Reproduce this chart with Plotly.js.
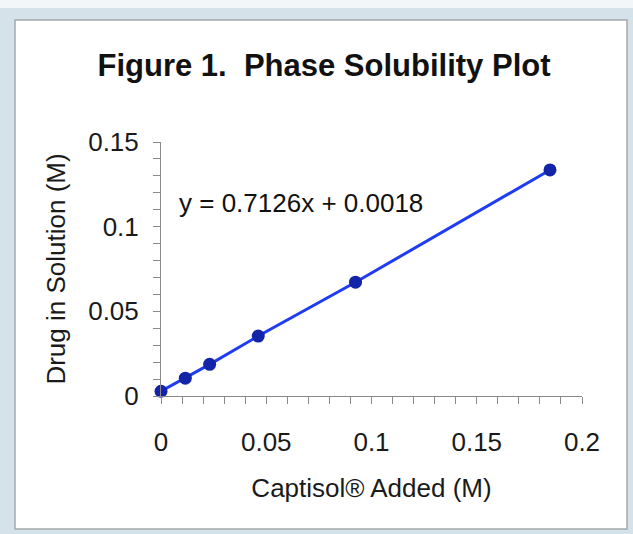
<!DOCTYPE html>
<html>
<head>
<meta charset="utf-8">
<script src="https://cdn.plot.ly/plotly-3.0.1.min.js"></script>
<style>
html,body{margin:0;padding:0;background:#ffffff;}
#chart{width:633px;height:534px;}
</style>
</head>
<body>
<div id="chart"></div>
<script>
// Data
const captisolAdded = [0, 0.01155, 0.0231, 0.0462, 0.0924, 0.1848];
const drugInSolution = [0.0028, 0.0105, 0.0187, 0.0354, 0.0672, 0.1335];
const xTickVals = [0, 0.05, 0.1, 0.15, 0.2];
const xTickText = ["0", "0.05", "0.1", "0.15", "0.2"];
const yTickVals = [0, 0.05, 0.1, 0.15];
const yTickText = ["0", "0.05", "0.1", "0.15"];
const equationText = "y = 0.7126x + 0.0018";
const titleText = "Figure 1.\u00a0 Phase Solubility Plot";
const xTitle = "Captisol® Added (M)";
const yTitle = "Drug in Solution (M)";

const font = "Liberation Sans, Arial, Helvetica, sans-serif";

// plot area: x 161..582, y 142..396
const L = 161, R = 582, T = 142, B = 396, W = 633, H = 534;
const pw = R - L, ph = B - T;
const px = v => (v - L) / pw;
const py = v => (B - v) / ph;

const trace = {
  x: captisolAdded,
  y: drugInSolution,
  mode: 'lines+markers',
  type: 'scatter',
  line: {color: '#1f3cf5', width: 3},
  marker: {color: '#1424a8', size: 13},
  cliponaxis: false,
  hoverinfo: 'x+y'
};

const layout = {
  width: W, height: H,
  margin: {l: L, r: W - R, t: T, b: H - B, pad: 0},
  paper_bgcolor: '#d6e2e9',
  plot_bgcolor: 'rgba(0,0,0,0)',
  showlegend: false,
  title: {
    text: titleText,
    font: {family: font, size: 31, color: '#111', weight: 'bold'},
    x: 324 / W, xanchor: 'center', xref: 'container',
    y: 1 - 65 / H, yanchor: 'middle', yref: 'container'
  },
  xaxis: {
    range: [0, 0.2],
    tickmode: 'array', tickvals: xTickVals, ticktext: xTickText,
    ticks: 'outside', ticklen: 7, tickwidth: 1, tickcolor: '#8a8a8a',
    minor: {dtick: 0.01, tick0: 0, ticks: 'outside', ticklen: 7, tickwidth: 1, tickcolor: '#8a8a8a', showgrid: false},
    showline: true, linecolor: '#8a8a8a', linewidth: 1,
    showgrid: false, zeroline: false,
    tickfont: {family: font, size: 26, color: '#1a1a1a'},
    ticklabelstandoff: 16,
    title: {text: xTitle, font: {family: font, size: 26, color: '#1a1a1a'}, standoff: 22}
  },
  yaxis: {
    range: [0, 0.15],
    tickmode: 'array', tickvals: yTickVals, ticktext: yTickText,
    ticks: 'outside', ticklen: 7, tickwidth: 1, tickcolor: '#8a8a8a',
    minor: {dtick: 0.01, tick0: 0, ticks: 'outside', ticklen: 7, tickwidth: 1, tickcolor: '#8a8a8a', showgrid: false},
    showline: true, linecolor: '#8a8a8a', linewidth: 1,
    showgrid: false, zeroline: false,
    tickfont: {family: font, size: 26, color: '#1a1a1a'},
    ticklabelstandoff: 9,
    title: {text: yTitle, font: {family: font, size: 26, color: '#1a1a1a'}, standoff: 15}
  },
  annotations: [{
    x: 0.0076, y: 0.114, xref: 'x', yref: 'y',
    text: equationText, showarrow: false,
    xanchor: 'left', yanchor: 'middle',
    font: {family: font, size: 26, color: '#111'}
  }],
  shapes: [
    {type: 'rect', xref: 'paper', yref: 'paper', layer: 'below',
     x0: px(0), x1: px(W), y0: py(0), y1: py(8),
     fillcolor: '#f3f6f8', line: {width: 0}},
    {type: 'rect', xref: 'paper', yref: 'paper', layer: 'below',
     x0: px(15), x1: px(627), y0: py(20), y1: py(529),
     fillcolor: '#ffffff', line: {color: '#a2a9ad', width: 1.5}}
  ]
};

Plotly.newPlot('chart', [trace], layout, {displayModeBar: false, staticPlot: true});
</script>
</body>
</html>
